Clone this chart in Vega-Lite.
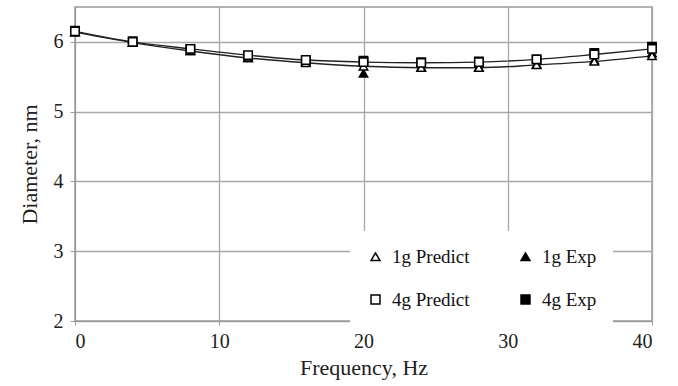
{
  "$schema": "https://vega.github.io/schema/vega-lite/v6.json",
  "width": 577,
  "height": 314,
  "autosize": {"type": "none"},
  "padding": {"left": 75, "top": 7, "right": 26, "bottom": 65},
  "background": "white",
  "config": {
    "font": "Liberation Serif",
    "view": {"stroke": "#9a9a9a", "strokeWidth": 1.5},
    "style": {"guide-label": {"font": "Liberation Serif", "fontSize": 20, "fill": "#222"}}
  },
  "data": {
    "values": [
      {"f": 0, "series": "1g Predict", "d": 6.14},
      {"f": 4, "series": "1g Predict", "d": 5.99},
      {"f": 8, "series": "1g Predict", "d": 5.87},
      {"f": 12, "series": "1g Predict", "d": 5.77},
      {"f": 16, "series": "1g Predict", "d": 5.70},
      {"f": 20, "series": "1g Predict", "d": 5.65},
      {"f": 24, "series": "1g Predict", "d": 5.63},
      {"f": 28, "series": "1g Predict", "d": 5.63},
      {"f": 32, "series": "1g Predict", "d": 5.67},
      {"f": 36, "series": "1g Predict", "d": 5.72},
      {"f": 40, "series": "1g Predict", "d": 5.80},
      {"f": 0, "series": "4g Predict", "d": 6.15},
      {"f": 4, "series": "4g Predict", "d": 6.00},
      {"f": 8, "series": "4g Predict", "d": 5.90},
      {"f": 12, "series": "4g Predict", "d": 5.81},
      {"f": 16, "series": "4g Predict", "d": 5.74},
      {"f": 20, "series": "4g Predict", "d": 5.71},
      {"f": 24, "series": "4g Predict", "d": 5.70},
      {"f": 28, "series": "4g Predict", "d": 5.71},
      {"f": 32, "series": "4g Predict", "d": 5.75},
      {"f": 36, "series": "4g Predict", "d": 5.82},
      {"f": 40, "series": "4g Predict", "d": 5.90},
      {"f": 0, "series": "1g Exp", "d": 6.14},
      {"f": 4, "series": "1g Exp", "d": 5.99},
      {"f": 8, "series": "1g Exp", "d": 5.87},
      {"f": 12, "series": "1g Exp", "d": 5.77},
      {"f": 16, "series": "1g Exp", "d": 5.71},
      {"f": 20, "series": "1g Exp", "d": 5.55},
      {"f": 24, "series": "1g Exp", "d": 5.64},
      {"f": 28, "series": "1g Exp", "d": 5.64},
      {"f": 32, "series": "1g Exp", "d": 5.68},
      {"f": 36, "series": "1g Exp", "d": 5.74},
      {"f": 40, "series": "1g Exp", "d": 5.84},
      {"f": 0, "series": "4g Exp", "d": 6.16},
      {"f": 4, "series": "4g Exp", "d": 6.01},
      {"f": 8, "series": "4g Exp", "d": 5.90},
      {"f": 12, "series": "4g Exp", "d": 5.80},
      {"f": 16, "series": "4g Exp", "d": 5.74},
      {"f": 20, "series": "4g Exp", "d": 5.73},
      {"f": 24, "series": "4g Exp", "d": 5.71},
      {"f": 28, "series": "4g Exp", "d": 5.72},
      {"f": 32, "series": "4g Exp", "d": 5.75},
      {"f": 36, "series": "4g Exp", "d": 5.84},
      {"f": 40, "series": "4g Exp", "d": 5.93}
    ]
  },
  "encoding": {
    "x": {
      "field": "f", "type": "quantitative",
      "scale": {"domain": [0, 40], "nice": false},
      "axis": {
        "values": [0, 10, 20, 30, 40], "title": "Frequency, Hz", "tickSize": 4, "labelPadding": 6, "titlePadding": 6,
        "labelFont": "Liberation Serif", "titleFont": "Liberation Serif", "labelFontSize": 20, "titleFontSize": 22,
        "titleFontWeight": "normal", "labelColor": "#222", "titleColor": "#222",
        "gridColor": "#a8a8a8", "gridWidth": 1.3, "domainColor": "#9a9a9a", "tickColor": "#9a9a9a",
        "encode": {"labels": {"update": {"fontSize": {"value": 20}, "font": {"value": "Liberation Serif"}}}}
      }
    },
    "y": {
      "field": "d", "type": "quantitative",
      "scale": {"domain": [2, 6.5], "nice": false},
      "axis": {
        "values": [2, 3, 4, 5, 6], "title": "Diameter, nm", "tickSize": 5, "labelPadding": 7, "titlePadding": 12,
        "labelFont": "Liberation Serif", "titleFont": "Liberation Serif", "labelFontSize": 20, "titleFontSize": 22,
        "titleFontWeight": "normal", "labelColor": "#222", "titleColor": "#222",
        "gridColor": "#a8a8a8", "gridWidth": 1.3, "domainColor": "#9a9a9a", "tickColor": "#9a9a9a",
        "encode": {"labels": {"update": {"fontSize": {"value": 20}, "font": {"value": "Liberation Serif"}}}}
      }
    }
  },
  "layer": [
    {
      "transform": [{"filter": "indexof(datum.series, 'Predict') >= 0"}],
      "mark": {"type": "line", "interpolate": "monotone", "color": "#222", "strokeWidth": 1.4},
      "encoding": {"detail": {"field": "series"}}
    },
    {
      "mark": {"type": "point", "filled": true, "stroke": "black", "strokeWidth": 1.5, "size": 70, "opacity": 1},
      "encoding": {
        "shape": {
          "field": "series", "type": "nominal",
          "scale": {"domain": ["1g Predict", "4g Predict", "1g Exp", "4g Exp"], "range": ["triangle-up", "square", "triangle-up", "square"]},
          "legend": {
            "title": null, "orient": "none", "legendX": 275, "legendY": 224, "columns": 2,
            "columnPadding": 46, "rowPadding": 23, "padding": 16, "labelOffset": 7,
            "fillColor": "white", "labelFont": "Liberation Serif", "labelFontSize": 19,
            "labelColor": "#111", "symbolSize": 80,
            "encode": {"symbols": {"update": {"stroke": {"value": "black"}, "strokeWidth": {"value": 1.5}}}}
          }
        },
        "fill": {
          "field": "series", "type": "nominal",
          "scale": {"domain": ["1g Predict", "4g Predict", "1g Exp", "4g Exp"], "range": ["white", "white", "black", "black"]},
          "legend": {
            "title": null, "orient": "none", "legendX": 275, "legendY": 224, "columns": 2,
            "columnPadding": 46, "rowPadding": 23, "padding": 16, "labelOffset": 7,
            "fillColor": "white", "labelFont": "Liberation Serif", "labelFontSize": 19,
            "labelColor": "#111", "symbolSize": 80,
            "encode": {"symbols": {"update": {"stroke": {"value": "black"}, "strokeWidth": {"value": 1.5}}}}
          }
        },
        "order": {"field": "series"}
      }
    }
  ]
}
